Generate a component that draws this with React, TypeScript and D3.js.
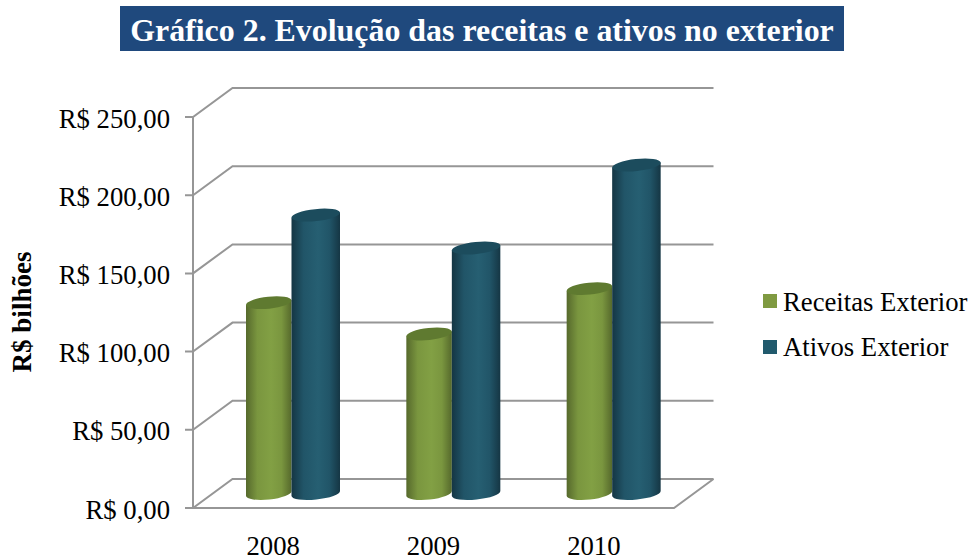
import React from "react";
import * as d3 from "d3";

const categories = ["2008", "2009", "2010"];
const seriesNames = ["Receitas Exterior", "Ativos Exterior"];
const receitas = [122, 102, 131];
const ativos = [178, 157, 210];
const ticks = [0, 50, 100, 150, 200, 250];
const tickLabels = ["R$ 0,00", "R$ 50,00", "R$ 100,00", "R$ 150,00", "R$ 200,00", "R$ 250,00"];
const title = "Gráfico 2. Evolução das receitas e ativos no exterior";
const yTitle = "R$ bilhões";

const SERIF = "'Liberation Serif','Times New Roman',serif";
const GRID = "#969696";
const dx = 39.5;
const dy = 29;
const y = d3.scaleLinear().domain([0, 250]).range([508, 117]);
const x0 = d3.scaleBand().domain(categories).range([193, 674]);
const x1 = d3.scaleOrdinal<string, [number, number]>().domain(seriesNames).range([[53, 98.5], [98.5, 147]]);
const styles = [
  { id: "g", edge: "#56692c", mid: "#7a963f", light: "#82a044", top: "#5f7a30", legend: "#7f9a41" },
  { id: "b", edge: "#153644", mid: "#215568", light: "#265f72", top: "#1c4c5d", legend: "#215a6d" },
];
const depth = 14.5;
const ry = 6;
const tilt = -6;

function Cyl({ x, w, v, s }: { x: number; w: number; v: number; s: (typeof styles)[0] }) {
  const top = y(v) - depth;
  const base = y(0) - depth;
  const cx = x + w / 2;
  const rad = (tilt * Math.PI) / 180;
  const off = (w / 2) * Math.tan(rad);
  const path = `M${x},${top - off} L${x},${base - off} A${w / 2},${ry} ${tilt} 0 0 ${x + w},${base + off} L${x + w},${top + off} Z`;
  return (
    <g>
      <path d={path} fill={`url(#grad-${s.id})`} />
      <ellipse cx={cx} cy={top} rx={w / 2 / Math.cos(rad)} ry={ry} fill={s.top} transform={`rotate(${tilt} ${cx} ${top})`} />
    </g>
  );
}

export default function App() {
  const front = x0.range()[0];
  const right = x0.range()[1];
  return (
    <svg width={970} height={560} style={{ position: "absolute", left: 0, top: 0, background: "#fff" }} fontFamily={SERIF}>
      <defs>
        {styles.map((s) => (
          <linearGradient key={s.id} id={`grad-${s.id}`} x1="0" x2="1" y1="0" y2="0">
            <stop offset="0" stopColor={s.edge} />
            <stop offset="0.25" stopColor={s.mid} />
            <stop offset="0.55" stopColor={s.light} />
            <stop offset="0.78" stopColor={s.mid} />
            <stop offset="1" stopColor={s.edge} />
          </linearGradient>
        ))}
      </defs>
      <rect x={120} y={6} width={724} height={45} fill="#1f497d" />
      <text x={482} y={41} textAnchor="middle" fill="#fff" fontWeight="bold" fontSize={31.9}>{title}</text>

      <g stroke={GRID} strokeWidth={2} fill="none">
        {ticks.map((t) => (
          <g key={t}>
            <path d={`M${front - 8},${y(t)} H${front} L${front + dx},${y(t) - dy} H${right + dx}`} />
          </g>
        ))}
        <path d={`M${front},${y(250)} V${y(0)} H${right} L${right + dx},${y(0) - dy}`} />
      </g>

      {categories.map((c, i) => (
        <g key={c}>
          {[receitas[i], ativos[i]].map((v, k) => {
            const [a, b] = x1(seriesNames[k]);
            return <Cyl key={k} x={x0(c)! + a} w={b - a} v={v} s={styles[k]} />;
          })}
          <text x={x0(c)! + x0.bandwidth() / 2} y={555} textAnchor="middle" fontSize={26.7} fill="#000">{c}</text>
        </g>
      ))}

      {ticks.map((t, i) => (
        <text key={t} x={170} y={y(t) + 10.5} textAnchor="end" fontSize={26.7} fill="#000">{tickLabels[i]}</text>
      ))}

      <text transform="translate(31,312) rotate(-90)" textAnchor="middle" fontWeight="bold" fontSize={27} fill="#000">{yTitle}</text>

      {seriesNames.map((n, i) => (
        <g key={n}>
          <rect x={763} y={294 + i * 46} width={14} height={14} fill={styles[i].legend} />
          <text x={783} y={311 + i * 45} fontSize={26.7} fill="#000">{n}</text>
        </g>
      ))}
    </svg>
  );
}
